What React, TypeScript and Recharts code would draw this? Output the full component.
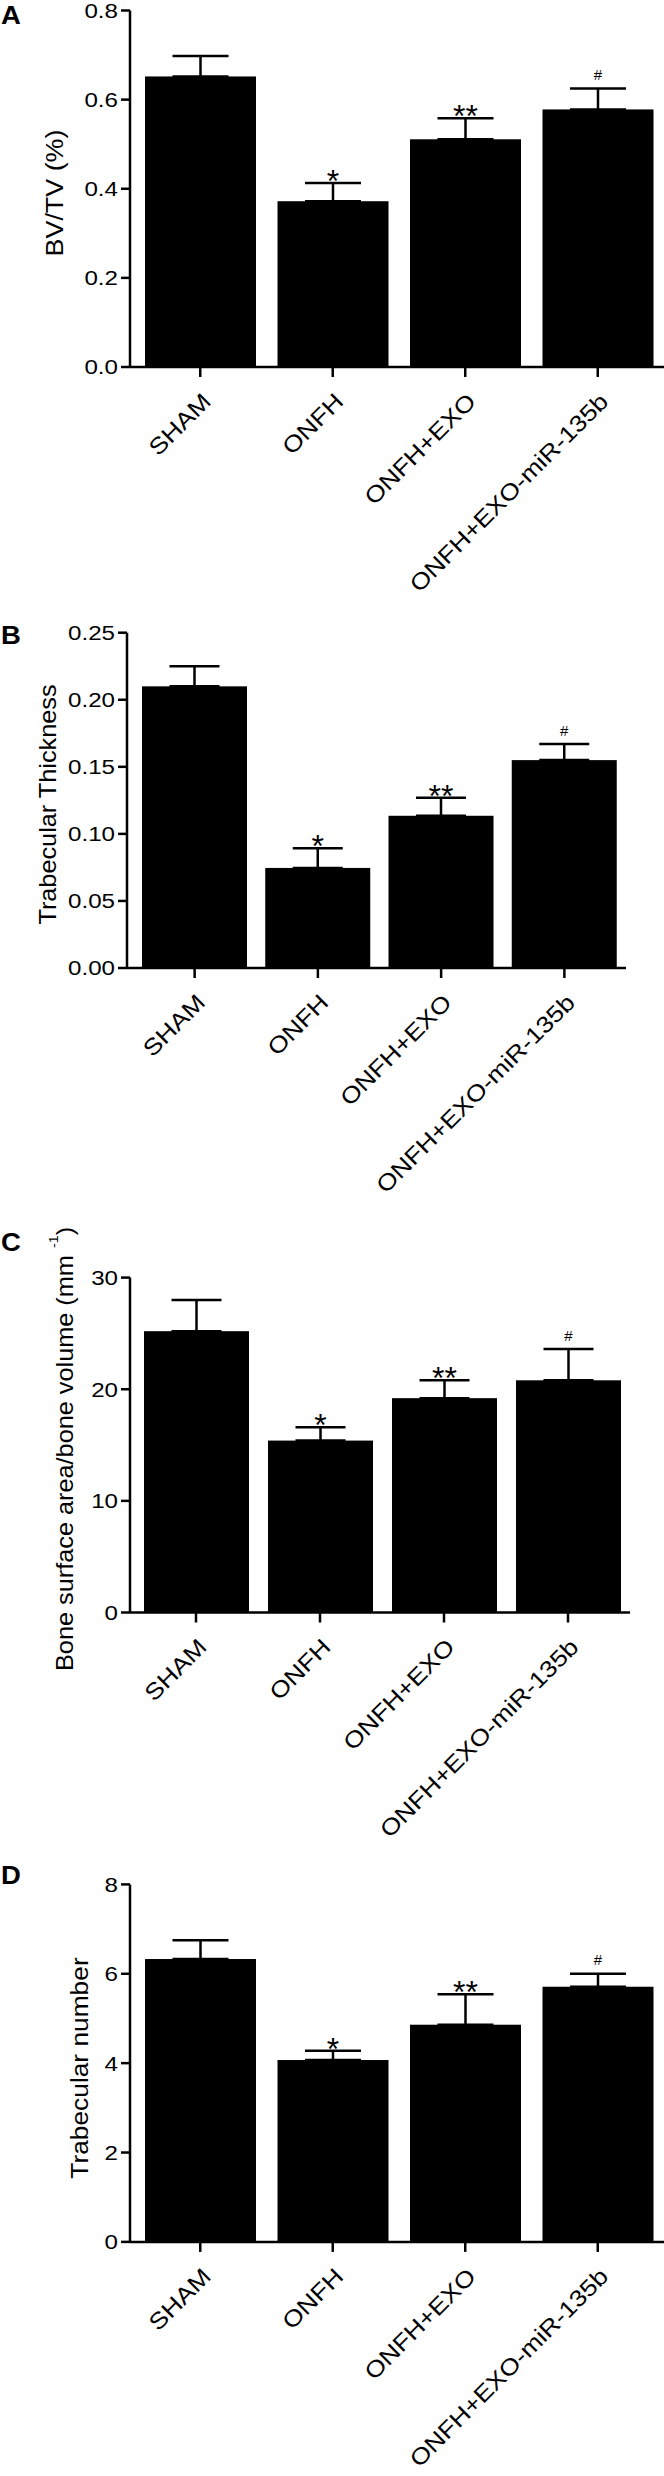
import React from 'react';
import { BarChart, Bar, XAxis, YAxis, ErrorBar } from 'recharts';

const FONT = '"Liberation Sans", Arial, Helvetica, sans-serif';

const groups = ['SHAM', 'ONFH', 'ONFH+EXO', 'ONFH+EXO-miR-135b'];
const marks = ['', '*', '**', '#'];

// A: BV/TV (%)
const bvtvMean = [0.652, 0.372, 0.511, 0.578];
const bvtvTop = [0.698, 0.413, 0.558, 0.625];
const bvtvTicks = [0, 0.2, 0.4, 0.6, 0.8];

// B: trabecular thickness
const thickMean = [0.21, 0.0746, 0.1135, 0.155];
const thickTop = [0.225, 0.0893, 0.127, 0.167];
const thickTicks = [0, 0.05, 0.1, 0.15, 0.2, 0.25];

// C: bone surface / bone volume
const bsbvMean = [25.2, 15.4, 19.2, 20.8];
const bsbvTop = [28.0, 16.6, 20.8, 23.6];
const bsbvTicks = [0, 10, 20, 30];

// D: trabecular number
const numMean = [6.33, 4.07, 4.86, 5.71];
const numTop = [6.75, 4.28, 5.54, 6.0];
const numTicks = [0, 2, 4, 6, 8];

const rows = (mean: number[], top: number[]) =>
  groups.map((g, i) => ({ name: g, mean: mean[i], err: [0, top[i] - mean[i]], mark: marks[i] }));

const barShape = (p: any) => {
  const { x, y, width, height, payload } = p;
  const capY = y - (payload.err[1] / payload.mean) * height;
  const cx = x + width / 2;
  return (
    <g>
      <rect x={x} y={y} width={width} height={height} fill="#000" />
      {payload.mark === '#' ? (
        <text x={cx} y={capY - 8.4} textAnchor="middle" fontSize={15} fontFamily={FONT} fill="#000">#</text>
      ) : payload.mark ? (
        <text x={cx} y={capY + 8.9} textAnchor="middle" fontSize={32} fontFamily={FONT} fill="#000">{payload.mark}</text>
      ) : null}
    </g>
  );
};

type PanelProps = {
  data: any[];
  ticks: number[];
  decimals: number;
  top: number;
  height: number;
  plotTop: number;
  plotBottom: number;
  plotLeft: number;
  marginRight: number;
  padLeft: number;
  barSize: number;
  capWidth: number;
};

function Panel(p: PanelProps) {
  const axisStyle = { stroke: '#000', strokeWidth: 2.5 };
  return (
    <div style={{ position: 'absolute', left: 0, top: p.top, width: 664, height: p.height }}>
      <BarChart
        width={664}
        height={p.height}
        data={p.data}
        margin={{ top: p.plotTop, right: p.marginRight, bottom: 0, left: 0 }}
      >
        <XAxis
          dataKey="name"
          type="category"
          height={p.height - p.plotBottom}
          padding={{ left: p.padLeft, right: 0 }}
          interval={0}
          tickSize={10}
          tickMargin={0}
          axisLine={axisStyle}
          tickLine={axisStyle}
          tick={(t: any) => (
            <text
              transform={`translate(${t.x + 12},${t.y + 26}) rotate(-45) scale(1.15,1)`}
              textAnchor="end"
              fontSize={23}
              fontFamily={FONT}
              fill="#000"
            >
              {t.payload.value}
            </text>
          )}
        />
        <YAxis
          type="number"
          domain={[0, p.ticks[p.ticks.length - 1]]}
          ticks={p.ticks}
          interval={0}
          width={p.plotLeft}
          tickSize={9}
          tickMargin={3}
          axisLine={axisStyle}
          tickLine={axisStyle}
          tick={(t: any) => (
            <text
              transform={`translate(${t.x},${t.y}) scale(1.15,1)`}
              textAnchor="end"
              dy="0.35em"
              fontSize={21}
              fontFamily={FONT}
              fill="#000"
            >
              {Number(t.payload.value).toFixed(p.decimals)}
            </text>
          )}
        />
        <Bar dataKey="mean" barSize={p.barSize} fill="#000" shape={barShape} isAnimationActive={false}>
          <ErrorBar dataKey="err" direction="y" width={p.capWidth} stroke="#000" strokeWidth={2.5} />
        </Bar>
      </BarChart>
    </div>
  );
}

function Letter({ x, y, t }: { x: number; y: number; t: string }) {
  return (
    <text transform={`translate(${x},${y}) scale(1.1,1)`} fontSize={25} fontWeight="bold" fontFamily={FONT} fill="#000">
      {t}
    </text>
  );
}

export default function App() {
  return (
    <div style={{ position: 'absolute', left: 0, top: 0, width: 664, height: 2476, background: '#fff' }}>
      <Panel data={rows(bvtvMean, bvtvTop)} ticks={bvtvTicks} decimals={1} top={0} height={640}
        plotTop={10.5} plotBottom={367} plotLeft={130} marginRight={0} padLeft={4} barSize={111} capWidth={28} />
      <Panel data={rows(thickMean, thickTop)} ticks={thickTicks} decimals={2} top={620} height={620}
        plotTop={12.7} plotBottom={348} plotLeft={127} marginRight={38} padLeft={6} barSize={105} capWidth={25} />
      <Panel data={rows(bsbvMean, bsbvTop)} ticks={bsbvTicks} decimals={0} top={1240} height={620}
        plotTop={37.6} plotBottom={372.5} plotLeft={130} marginRight={34} padLeft={4} barSize={105} capWidth={25} />
      <Panel data={rows(numMean, numTop)} ticks={numTicks} decimals={0} top={1860} height={616}
        plotTop={24.4} plotBottom={381.9} plotLeft={130} marginRight={0} padLeft={4} barSize={111} capWidth={28} />

      <svg width={664} height={2476} style={{ position: 'absolute', left: 0, top: 0, pointerEvents: 'none' }}>
        <Letter x={1} y={24} t="A" />
        <Letter x={1} y={643.5} t="B" />
        <Letter x={1} y={1251} t="C" />
        <Letter x={1} y={1883.5} t="D" />

        <text transform="translate(63,193) rotate(-90) scale(1.12,1)" textAnchor="middle" fontSize={24} fontFamily={FONT} fill="#000">
          BV/TV (%)
        </text>
        <text transform="translate(56,804.5) rotate(-90) scale(1.1,1)" textAnchor="middle" fontSize={23} fontFamily={FONT} fill="#000">
          Trabecular Thickness
        </text>
        <text transform="translate(72.5,1671) rotate(-90) scale(1.1,1)" textAnchor="start" fontSize={23} fontFamily={FONT} fill="#000">
          <tspan>Bone surface area/bone volume (mm </tspan>
          <tspan dy={-15} fontSize={13}>-1</tspan>
          <tspan dy={15}>)</tspan>
        </text>
        <text transform="translate(88,2068) rotate(-90) scale(1.12,1)" textAnchor="middle" fontSize={23.5} fontFamily={FONT} fill="#000">
          Trabecular number
        </text>
      </svg>
    </div>
  );
}
